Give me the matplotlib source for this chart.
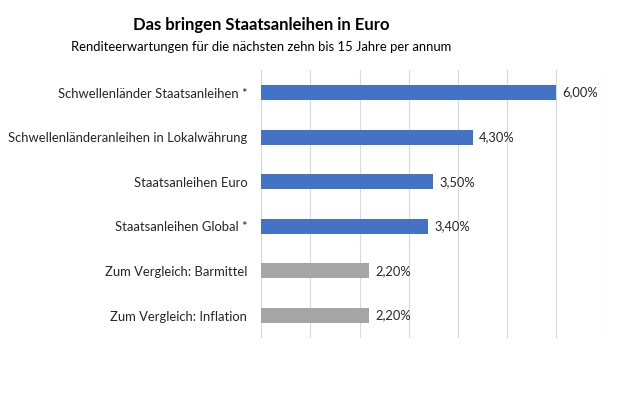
import matplotlib.pyplot as plt

# data (top to bottom as in the picture)
categories = [
    "Schwellenländer Staatsanleihen *",
    "Schwellenländeranleihen in Lokalwährung",
    "Staatsanleihen Euro",
    "Staatsanleihen Global *",
    "Zum Vergleich: Barmittel",
    "Zum Vergleich: Inflation",
]
values = [6.00, 4.30, 3.50, 3.40, 2.20, 2.20]
is_comparison = [False, False, False, False, True, True]

title = "Das bringen Staatsanleihen in Euro"
subtitle = "Renditeerwartungen für die nächsten zehn bis 15 Jahre per annum"

plt.rcParams['font.family'] = ['Lato', 'DejaVu Sans']

fig = plt.figure(figsize=(6.2, 4.13), dpi=100)
ax = fig.add_axes([0.421, 0.182, 0.556, 0.648])

colors = ['#A5A5A5' if c else '#4472C4' for c in is_comparison]
y = list(range(len(categories)))
ax.barh(y, values, height=0.335, color=colors, zorder=3)

for yi, v in zip(y, values):
    ax.text(v + 0.12, yi, f"{v:.2f}%".replace('.', ','),
            va='center', ha='left', fontsize=9.3, color='#262626')

ax.set_xlim(0, 7)
ax.set_ylim(len(categories) - 0.5, -0.5)
ax.set_yticks(y)
ax.set_yticklabels(categories, fontsize=9.4, color='#262626')
ax.set_xticks(range(0, 8))
ax.set_xticklabels([])
ax.tick_params(axis='both', length=0)
ax.tick_params(axis='y', pad=10)
ax.grid(axis='x', color='#D9D9D9', linewidth=0.8, zorder=0)
for s in ax.spines.values():
    s.set_visible(False)

fig.text(0.421, 0.94, title, ha='center', va='center',
         fontsize=12, fontweight='bold', color='black')
fig.text(0.421, 0.887, subtitle, ha='center', va='center',
         fontsize=9.4, color='black')

fig.savefig('out.png', dpi=100)
